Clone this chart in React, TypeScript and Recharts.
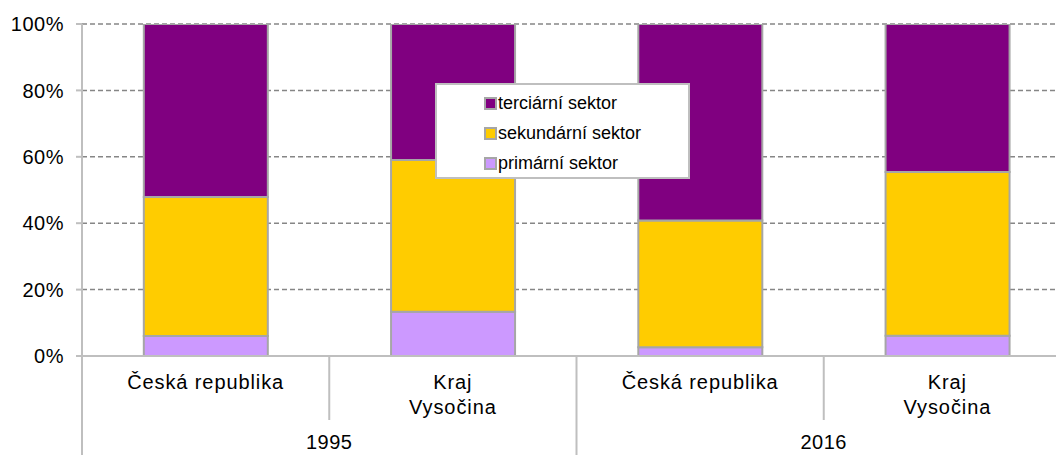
import React from 'react';
import { BarChart, Bar, XAxis, YAxis, CartesianGrid } from 'recharts';

const categories = ['Česká republika', 'Kraj\nVysočina', 'Česká republika', 'Kraj\nVysočina'];
const years = ['1995', '1995', '2016', '2016'];
const primary = [6.0, 13.3, 2.6, 6.1];
const secondary = [41.9, 45.7, 38.2, 49.3];
const tertiary = [52.1, 41.0, 59.2, 44.6];
const yTicks = [0, 20, 40, 60, 80, 100];

const series = [
  { key: 'primary', name: 'primární sektor', color: '#CC99FF' },
  { key: 'secondary', name: 'sekundární sektor', color: '#FFCC00' },
  { key: 'tertiary', name: 'terciární sektor', color: '#800080' },
];

const data = categories.map((c, i) => ({
  name: c,
  year: years[i],
  primary: primary[i],
  secondary: secondary[i],
  tertiary: tertiary[i],
}));

const CHART_W = 1072;
const CHART_H = 455;
const YAXIS_W = 82;
const MARGIN = { top: 24, right: 1, bottom: 0, left: 0 };
const BAND = (CHART_W - YAXIS_W - MARGIN.left - MARGIN.right) / categories.length;
const FONT = '"Liberation Sans", Arial, sans-serif';
const AXIS_COLOR = '#bfbfbf';

const CategoryTick = (props: any) => {
  const { x, y, payload, index } = props;
  const lines = String(payload.value).split('\n');
  const left = x - BAND / 2;
  const isGroupStart = index % 2 === 0;
  const yr = years[index];
  return (
    <g>
      <line x1={left} y1={y} x2={left} y2={y + (isGroupStart ? 99 : 64)} stroke={AXIS_COLOR} strokeWidth={2} />
      {index === categories.length - 1 && (
        <line x1={x + BAND / 2} y1={y} x2={x + BAND / 2} y2={y + 99} stroke={AXIS_COLOR} strokeWidth={2} />
      )}
      {lines.map((l, i) => (
        <text key={i} x={x} y={y + 33 + i * 25} textAnchor="middle" fill="#000" fontSize={20} letterSpacing={0.9} fontFamily={FONT}>
          {l}
        </text>
      ))}
      {isGroupStart && (
        <text x={x + BAND / 2} y={y + 93} textAnchor="middle" fill="#000" fontSize={20} letterSpacing={0.5} fontFamily={FONT}>
          {yr}
        </text>
      )}
    </g>
  );
};

export default function App() {
  const legendItems = [...series].reverse();
  return (
    <div style={{ position: 'absolute', left: 0, top: 0, width: 1056, height: 455, overflow: 'hidden', background: '#fff', fontFamily: FONT }}>
      <BarChart width={CHART_W} height={CHART_H} data={data} margin={MARGIN} barCategoryGap="25%">
        <CartesianGrid vertical={false} stroke="#868686" strokeDasharray="5 3" strokeWidth={1.5} />
        <XAxis
          dataKey="name"
          height={CHART_H - MARGIN.top - 332}
          tickLine={false}
          tickSize={0}
          tickMargin={0}
          interval={0}
          axisLine={{ stroke: AXIS_COLOR, strokeWidth: 2 }}
          tick={<CategoryTick />}
        />
        <YAxis
          width={YAXIS_W}
          domain={[0, 100]}
          ticks={yTicks}
          tickFormatter={(v: number) => `${v}%`}
          axisLine={{ stroke: AXIS_COLOR, strokeWidth: 2 }}
          tickLine={{ stroke: AXIS_COLOR, strokeWidth: 2 }}
          tickSize={6}
          tickMargin={12}
          tick={{ fill: '#000', fontSize: 20, fontFamily: FONT, letterSpacing: 0.5 }}
          allowDataOverflow
        />
        {series.map((s) => (
          <Bar
            key={s.key}
            dataKey={s.key}
            name={s.name}
            stackId="a"
            fill={s.color}
            stroke="#a6a6a6"
            strokeWidth={2}
            isAnimationActive={false}
          />
        ))}
      </BarChart>
      <div
        style={{
          position: 'absolute',
          left: 435,
          top: 83,
          width: 251,
          height: 92,
          background: '#fff',
          border: '2px solid #bfbfbf',
          boxSizing: 'content-box',
        }}
      >
        {legendItems.map((s, i) => (
          <div
            key={s.key}
            style={{
              position: 'absolute',
              left: 47,
              top: 6 + i * 30,
              height: 24,
              display: 'flex',
              alignItems: 'center',
              fontSize: 18,
              color: '#000',
              whiteSpace: 'nowrap',
            }}
          >
            <span
              style={{
                display: 'inline-block',
                width: 9,
                height: 9,
                background: s.color,
                border: '2px solid #a6a6a6',
                marginRight: 1,
              }}
            />
            {s.name}
          </div>
        ))}
      </div>
    </div>
  );
}
